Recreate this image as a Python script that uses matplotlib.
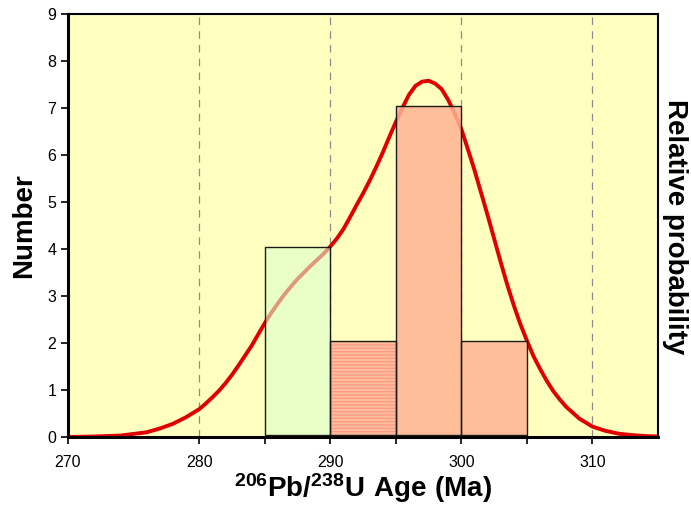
import matplotlib
matplotlib.use("Agg")
import matplotlib.pyplot as plt

plt.rcParams["font.family"] = ["Liberation Sans", "DejaVu Sans"]
plt.rcParams["mathtext.fontset"] = "custom"
plt.rcParams["mathtext.rm"] = "Liberation Sans"
plt.rcParams["mathtext.bf"] = "Liberation Sans:bold"
plt.rcParams["hatch.linewidth"] = 1.0

# histogram of ages (5 Ma bins)
bin_left = [285, 290, 295, 300]
bin_counts = [4, 2, 7, 2]
bin_colors = ["#DDFFCC", "#FFB394", "#FFB394", "#FFB394"]
bin_alpha = [0.6, 0.85, 0.85, 0.85]

# relative probability curve, scaled to the count axis
curve_age = [270, 272, 274, 276, 277, 278, 279, 280, 280.5, 281, 281.5, 282,
             282.5, 283, 283.5, 284, 284.5, 285, 285.5, 286, 286.5, 287, 287.5,
             288, 288.5, 289, 289.5, 290, 290.5, 291, 291.5, 292, 292.5, 293,
             293.5, 294, 294.5, 295, 295.5, 296, 296.5, 297, 297.5, 298, 298.5,
             299, 299.5, 300, 300.5, 301, 301.5, 302, 302.5, 303, 303.5, 304,
             304.5, 305, 305.5, 306, 306.5, 307, 307.5, 308, 309, 310, 311,
             312, 313, 314, 315]
curve_val = [0.0, 0.01, 0.03, 0.10, 0.18, 0.28, 0.42, 0.59, 0.71, 0.84, 0.98,
             1.14, 1.32, 1.52, 1.73, 1.94, 2.18, 2.42, 2.64, 2.84, 3.03, 3.20,
             3.36, 3.50, 3.64, 3.77, 3.90, 4.05, 4.22, 4.42, 4.67, 4.93, 5.18,
             5.45, 5.74, 6.05, 6.38, 6.70, 7.00, 7.28, 7.47, 7.56, 7.58, 7.52,
             7.40, 7.17, 6.88, 6.55, 6.12, 5.68, 5.20, 4.72, 4.22, 3.72, 3.24,
             2.80, 2.40, 2.05, 1.72, 1.45, 1.20, 0.98, 0.80, 0.64, 0.39, 0.22,
             0.13, 0.07, 0.04, 0.02, 0.01]

BIN_WIDTH = 5
BASE = 0.05

fig = plt.figure(figsize=(6.91, 5.09), dpi=100)
ax = fig.add_axes([0.0984, 0.1415, 0.9523 - 0.0984, 0.9725 - 0.1415])
ax.set_facecolor("#FFFFC0")

for x in (280, 290, 300, 310):
    ax.axvline(x, color="#8C8C8C", linestyle=(0, (6, 5)), linewidth=0.9, zorder=1)

ax.plot(curve_age, curve_val, color="#E00000", linewidth=2.8,
        solid_capstyle="round", solid_joinstyle="round", zorder=2)

for left, count, color, alpha in zip(bin_left, bin_counts, bin_colors, bin_alpha):
    ax.bar(left, count, width=BIN_WIDTH, bottom=BASE, align="edge",
           color=color, alpha=alpha, edgecolor="none", zorder=3)
    ax.bar(left, count, width=BIN_WIDTH, bottom=BASE, align="edge",
           facecolor="none", edgecolor="#1A1A1A", linewidth=1.0, zorder=5)

# the 290-295 bin carries a light horizontal hatch
ax.bar(bin_left[1], bin_counts[1], width=BIN_WIDTH, bottom=BASE, align="edge",
       facecolor="none", edgecolor="#FF9A88", hatch="-----", linewidth=0,
       zorder=4)

ax.set_xlim(270, 315)
ax.set_ylim(0, 9)
ax.set_xticks([270, 280, 290, 300, 310])
ax.set_xticks([285, 295, 305], minor=True)
ax.set_yticks(range(10))
ax.tick_params(axis="both", direction="out", labelsize=11.5, width=1.2,
               length=5, color="black")
ax.tick_params(axis="x", which="minor", length=5, width=1.2)
ax.tick_params(axis="x", pad=8)

for side in ("left", "bottom"):
    ax.spines[side].set_linewidth(2.2)
for side in ("top", "right"):
    ax.spines[side].set_linewidth(1.5)

ax.set_ylabel("Number", fontsize=20, fontweight="bold", labelpad=7)
ax.set_xlabel(r"$\mathbf{{}^{206}Pb/{}^{238}U\ Age\ (Ma)}$", fontsize=20,
              labelpad=1)
fig.text(0.977, 0.555, "Relative probability", rotation=-90, fontsize=20,
         fontweight="bold", ha="center", va="center")

fig.savefig("out.png", dpi=100, facecolor="white")
